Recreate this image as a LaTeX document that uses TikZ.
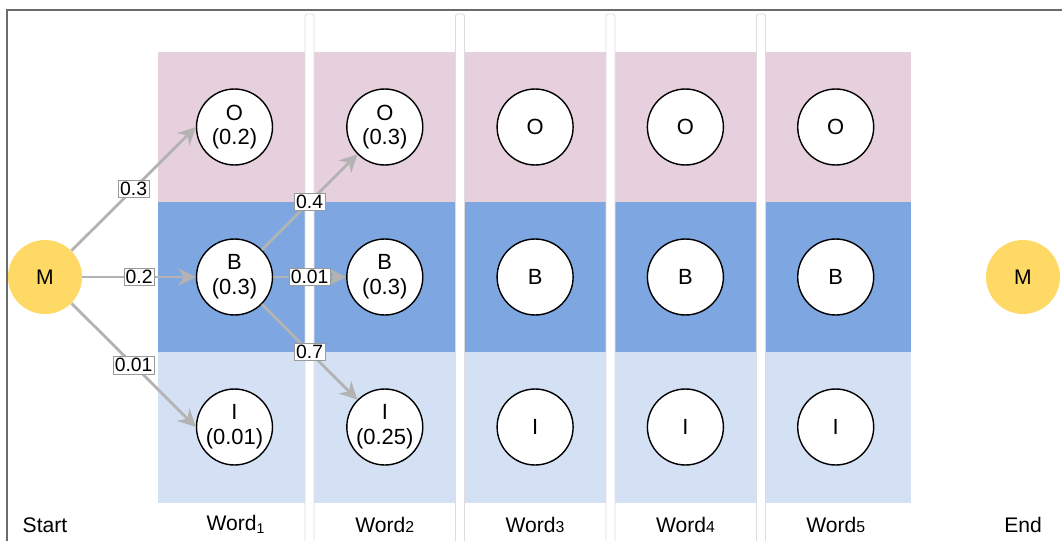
\documentclass[tikz,border=0pt]{standalone}
\usepackage{fontspec}
\setmainfont{Liberation Sans}
\usetikzlibrary{positioning}
\usetikzlibrary{arrows.meta}
\definecolor{pinkband}{HTML}{E6D0DE}
\definecolor{blueband}{HTML}{7EA6E0}
\definecolor{lightband}{HTML}{D4E1F5}
\definecolor{gold}{HTML}{FFD966}
\definecolor{edgegray}{HTML}{B3B3B3}
\definecolor{sepgray}{HTML}{DDDDDD}
\definecolor{framegray}{HTML}{6B6B6B}
\tikzset{
  state/.style={circle, draw=black, line width=0.8pt, fill=white, minimum size=1.52cm, inner sep=0pt, align=center, font=\fontsize{12.5}{14}\selectfont},
  term/.style={circle, fill=gold, minimum size=1.48cm, inner sep=0pt, font=\fontsize{12}{14}\selectfont},
  trans/.style={draw=edgegray, line width=1.6pt, -{Stealth[length=10pt,width=10pt]}},
  prob/.style={fill=white, draw=black!40, line width=0.3pt, inner sep=1pt, font=\fontsize{11}{12}\selectfont},
  caption/.style={font=\fontsize{12}{14}\selectfont}
}

\begin{document}
\begin{tikzpicture}[x=0.02cm, y=-0.02cm]
    \useasboundingbox (0,0) rectangle (1062,541);
    \fill[white] (0,0) rectangle (1062,541);
    \draw[framegray, line width=0.6pt] (7,545) -- (7,10) -- (1066,10);

    \fill[pinkband] (158,52) rectangle (911,202);
    \fill[blueband] (158,202) rectangle (911,352);
    \fill[lightband] (158,352) rectangle (911,503);

    \foreach \i in {0,...,3} {
        \pgfmathsetmacro\x{305+\i*150.5}
        \draw[sepgray, fill=white, line width=0.5pt, rounded corners=1] (\x,14) rectangle (\x+9,545);
    }

    \node[term] (ms) at (45,277) {M};
    \node[term] (me) at (1023,277) {M};

    \node[state] (o1) at (234.5,127) {O\\(0.2)};
    \node[state] (b1) at (234.5,277) {B\\(0.3)};
    \node[state] (i1) at (234.5,427) {I\\(0.01)};
    \node[state] (o2) at (384.8,127) {O\\(0.3)};
    \node[state] (b2) at (384.8,277) {B\\(0.3)};
    \node[state] (i2) at (384.8,427) {I\\(0.25)};
    \foreach \i in {3,4,5} {
        \pgfmathsetmacro\x{234.5+(\i-1)*150.3}
        \node[state] (o\i) at (\x,127) {O};
        \node[state] (b\i) at (\x,277) {B};
        \node[state] (i\i) at (\x,427) {I};
    }

    \node[caption] (start) at (45,525) {Start};
    \node[caption] (w1) at (236,524) {Word\textsubscript{1}};
    \foreach \i in {2,...,5} {
        \pgfmathsetmacro\x{234.5+(\i-1)*150.3}
        \node[caption] (w\i) at (\x,525) {Word{\fontsize{9}{9}\selectfont\i}};
    }
    \node[caption] (end) at (1023,525) {End};

    \draw[trans] (ms) -- node[prob] {0.3} (o1.west);
    \draw[trans] (ms) -- node[prob] {0.2} (b1);
    \draw[trans] (ms) -- node[prob] {0.01} (i1.west);
    \draw[trans] (b1) -- node[prob] {0.4} (o2);
    \draw[trans] (b1) -- node[prob] {0.01} (b2);
    \draw[trans] (b1) -- node[prob] {0.7} (i2);
\end{tikzpicture}
\end{document}
